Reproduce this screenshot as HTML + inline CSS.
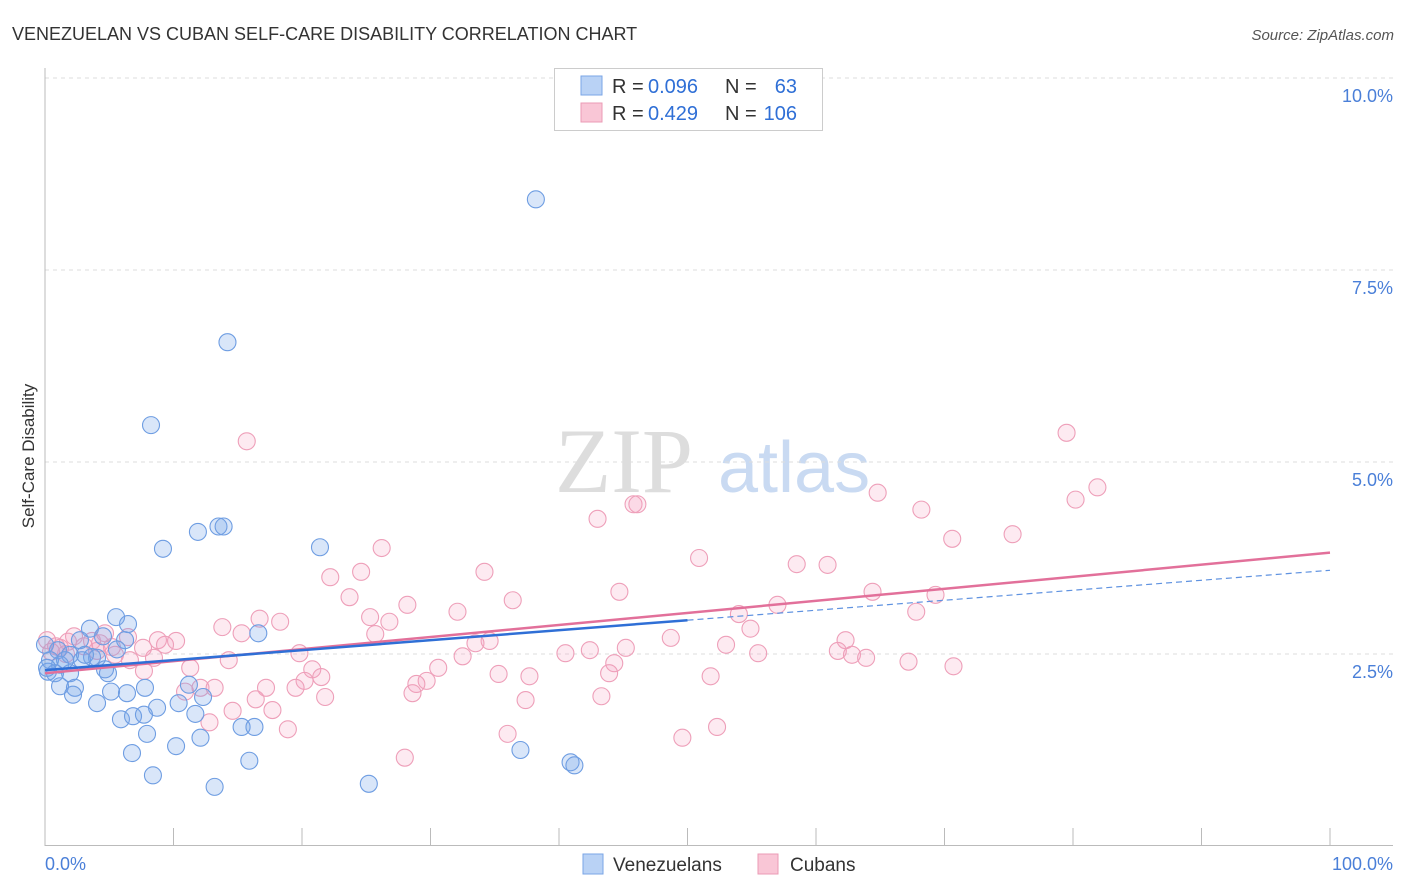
<!DOCTYPE html>
<html><head><meta charset="utf-8"><style>
body{margin:0;background:#fff;font-family:"Liberation Sans",sans-serif}
svg{display:block}
</style></head><body>
<svg id="c" width="1406" height="892" xmlns="http://www.w3.org/2000/svg">
<text x="12" y="40" font-size="18" fill="#333">VENEZUELAN VS CUBAN SELF-CARE DISABILITY CORRELATION CHART</text>
<text x="1394" y="40" font-size="15" fill="#555" text-anchor="end" font-style="italic">Source: ZipAtlas.com</text>
<g>
<text x="555" y="492" font-size="92" font-family="Liberation Serif,serif" fill="#ddd">ZIP</text>
<text x="718" y="492" font-size="72" fill="#c9daf2">atlas</text>
</g>
<g id="grid"></g><g id="axes"></g>
<text x="34" y="456" font-size="17" fill="#333" text-anchor="middle" transform="rotate(-90 34 456)">Self-Care Disability</text>
<g id="pts"></g><g id="trend"></g>
<g>
<rect x="554.5" y="68.5" width="268" height="62" fill="#fff" stroke="#ccc"/>
<rect x="581" y="76" width="21" height="19" fill="#b9d2f5" stroke="#7aa5e6"/>
<rect x="581" y="103" width="21" height="19" fill="#f9c6d6" stroke="#eb9bb5"/>
<g font-size="20" fill="#333">
<text x="612" y="93">R =</text><text x="648" y="93" fill="#2f6fd6">0.096</text><text x="725" y="93">N =</text><text x="797" y="93" fill="#2f6fd6" text-anchor="end">63</text>
<text x="612" y="120">R =</text><text x="648" y="120" fill="#2f6fd6">0.429</text><text x="725" y="120">N =</text><text x="797" y="120" fill="#2f6fd6" text-anchor="end">106</text>
</g>
</g>
<g>
<rect x="583" y="854" width="20" height="20" fill="#b9d2f5" stroke="#7aa5e6"/>
<text x="613" y="871" font-size="19" fill="#333">Venezuelans</text>
<rect x="758" y="854" width="20" height="20" fill="#f9c6d6" stroke="#eb9bb5"/>
<text x="790" y="871" font-size="19" fill="#333">Cubans</text>
</g>
</svg>
<script>
const yTicks=[2.5,5.0,7.5,10.0];
const yTickLabels=["2.5%","5.0%","7.5%","10.0%"];
const xTickLabels=["0.0%","100.0%"];
const venX=[38.2,14.2,8.25,9.18,11.9,13.5,13.9,21.4,5.53,6.46,3.5,16.6,4.51,6.23,2.72,5.6,1.01,1.95,3.66,0.39,2.88,4.05,1.17,0.23,0.78,1.95,4.9,4.67,1.17,2.33,2.18,5.14,6.38,7.78,4.05,11.2,12.3,10.4,8.72,5.91,6.85,7.7,11.7,7.94,10.2,12.1,6.77,15.3,16.3,8.4,15.9,13.2,25.2,37.0,40.9,41.2,0,0.16,1.56,3.11];
const venY=[8.42,6.56,5.48,3.87,4.09,4.16,4.16,3.89,2.98,2.89,2.83,2.77,2.73,2.68,2.68,2.56,2.55,2.49,2.46,2.42,2.42,2.45,2.36,2.27,2.25,2.25,2.25,2.3,2.08,2.06,1.97,2.01,1.99,2.06,1.86,2.1,1.94,1.86,1.8,1.65,1.69,1.71,1.72,1.46,1.3,1.41,1.21,1.55,1.55,0.92,1.11,0.77,0.81,1.25,1.09,1.05,2.62,2.32,2.42,2.49];
const cubX=[79.5,15.7,64.8,81.9,80.2,45.8,46.1,68.2,43.0,70.6,75.3,26.2,50.9,58.5,60.9,34.2,22.2,24.6,23.7,36.4,44.7,64.4,69.3,28.2,32.1,57.0,25.3,54.0,67.8,16.7,18.3,26.8,13.8,54.9,25.7,62.3,48.7,8.79,10.2,15.3,4.67,6.46,2.26,34.6,33.5,9.34,53.0,0.86,42.4,45.2,61.7,62.8,63.9,55.5,19.8,32.5,40.5,4.05,5.45,1.63,8.48,14.3,67.2,44.3,70.7,20.8,30.6,21.5,11.3,35.3,37.7,20.2,29.7,51.8,43.9,7.7,12.1,28.9,17.2,19.5,13.2,10.9,21.8,16.4,43.3,28.6,37.4,14.6,17.7,12.8,18.9,36.0,49.6,52.3,28.0,0.16,1.17,3.04,3.66,6.61,7.63,0.47,1.79,4.28,5.21];
const cubY=[5.38,5.27,4.6,4.67,4.51,4.45,4.45,4.38,4.26,4.0,4.06,3.88,3.75,3.67,3.66,3.57,3.5,3.57,3.24,3.2,3.31,3.31,3.27,3.14,3.05,3.14,2.98,3.02,3.05,2.96,2.92,2.92,2.85,2.83,2.76,2.68,2.71,2.68,2.67,2.77,2.77,2.72,2.73,2.67,2.64,2.62,2.62,2.6,2.55,2.58,2.54,2.49,2.45,2.51,2.51,2.47,2.51,2.54,2.49,2.5,2.45,2.42,2.4,2.38,2.34,2.3,2.32,2.2,2.32,2.24,2.21,2.15,2.15,2.21,2.25,2.28,2.06,2.11,2.06,2.06,2.06,2.01,1.94,1.91,1.95,1.99,1.9,1.76,1.77,1.61,1.52,1.46,1.41,1.55,1.15,2.68,2.58,2.6,2.67,2.42,2.58,2.53,2.66,2.64,2.59];
const venTrend=[2.29,0.013];
const cubTrend=[2.25,0.0157];
const X=v=>45+v*12.85, Y=v=>846-v*76.8;
const NS="http://www.w3.org/2000/svg";
function mk(t,a,p){const e=document.createElementNS(NS,t);for(const k in a)e.setAttribute(k,a[k]);p.appendChild(e);return e;}
const grid=document.getElementById('grid'),axes=document.getElementById('axes');
yTicks.forEach((t,i)=>{
 const g=mk('line',{x1:45,x2:1393,y1:Y(t),y2:Y(t),stroke:'#ddd','stroke-dasharray':'4,4'},grid);
 
 
 const l=mk('text',{x:1393,y:Y(t)+24,'font-size':18,fill:'#4a7fd8','text-anchor':'end'},axes);
 l.textContent=yTickLabels[i];
 
 
});
const ya=mk('line',{x1:45,x2:45,y1:68,y2:846,stroke:'#bbb'},axes);


const xa=mk('line',{x1:45,x2:1393,y1:845.5,y2:845.5,stroke:'#bbb'},axes);


for(let i=0;i<=10;i++){const t=mk('line',{x1:X(i*10),x2:X(i*10),y1:828,y2:846,stroke:'#bbb'},axes);
 
 }
[[0,'start'],[100,'end']].forEach((d,i)=>{const l=mk('text',{x:d[0]?1393:45,y:870,'font-size':18,fill:'#4a7fd8','text-anchor':d[1]},axes);l.textContent=xTickLabels[i];
 
 });
const pts=document.getElementById('pts');
function plot(xs,ys,fill,stroke,name){xs.forEach((x,i)=>{const c=mk('circle',{cx:X(x),cy:Y(ys[i]),r:8.5,fill:fill,stroke:stroke,'stroke-width':1.1},pts);
 
 });}
plot(cubX,cubY,'rgba(245,160,190,0.22)','#ee9fb9','cuban-point');
plot(venX,venY,'rgba(120,165,235,0.28)','#6e9de2','venezuelan-point');
const tr=document.getElementById('trend');
const l1=mk('line',{x1:X(0),y1:Y(cubTrend[0]),x2:X(100),y2:Y(cubTrend[0]+100*cubTrend[1]),stroke:'#e2709a','stroke-width':2.5},tr);


const l2=mk('line',{x1:X(0),y1:Y(venTrend[0]),x2:X(50),y2:Y(venTrend[0]+50*venTrend[1]),stroke:'#2f6fd6','stroke-width':2.5},tr);


const l3=mk('line',{x1:X(50),y1:Y(venTrend[0]+50*venTrend[1]),x2:X(100),y2:Y(venTrend[0]+100*venTrend[1]),stroke:'#5f92e0','stroke-width':1.2,'stroke-dasharray':'6,4'},tr);


</script>
</body></html>
